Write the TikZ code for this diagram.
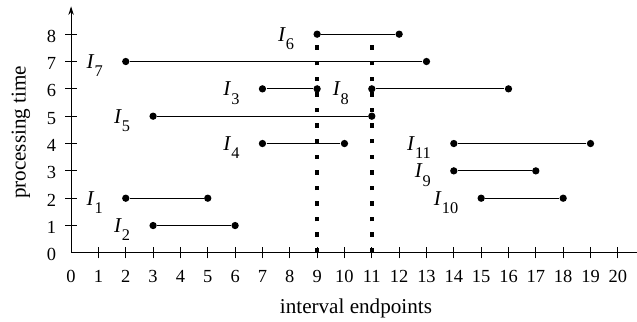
\documentclass[tikz,border=0pt]{standalone}
\usepackage{fontspec}
\setmainfont{Liberation Serif}
\usetikzlibrary{arrows.meta}
\tikzset{
    end-dot/.style = {circle, fill=black, inner sep=0pt, minimum size=3.8pt},
    interval-label/.style = {anchor=base east, inner sep=0pt, font=\fontsize{11}{12}\selectfont},
    tick-label/.style = {anchor=base, inner sep=0pt, font=\fontsize{9.6}{12}\selectfont},
    axis-title/.style = {anchor=base, inner sep=0pt, font=\fontsize{11}{13}\selectfont},
    sweep-line/.style = {line width=2.3pt, dash pattern=on 2.3pt off 5.81pt},
}
\newcommand\intname[1]{\textit{I}\raisebox{-4.3pt}{\fontsize{8.5}{9}\selectfont #1}}

\begin{document}
\begin{tikzpicture}[x=0.5cm, y=0.5cm, line width=0.6pt]
\useasboundingbox (-2.6,-2.52) rectangle (20.7,9.25);
% axes
\draw[-{Stealth[length=4.5pt,width=2.8pt]}] (0,0) -- (0,9.02);
\draw (0,0) -- (20.7,0);
\node[tick-label] (x0) at (0,-1.1) {0};
\node[tick-label] (y0) at (-0.72,-0.29) {0};
\foreach \x in {1,...,20} {
    \draw (\x,-0.2) -- (\x,0.2);
    \node[tick-label] (x\x) at (\x,-1.1) {\x};
}
\foreach \y in {1,...,8} {
    \draw (-0.22,\y) -- (0.22,\y);
    \node[tick-label] (y\y) at (-0.72,\y-0.29) {\y};
}
\node[axis-title, rotate=90] (ytitle) at (-1.66,4.41) {processing time};
\node[axis-title] (xtitle) at (10.42,-2.23) {interval endpoints};

% the two sweep positions
\draw[sweep-line] (9,0.015) -- (9,8);
\draw[sweep-line] (11,0.015) -- (11,7.62);

% intervals: number/left/right/height
\foreach \i/\l/\r/\h in {1/2/5/2, 2/3/6/1, 3/7/9/6, 4/7/10/4, 5/3/11/5, 6/9/12/8,
                        7/2/13/7, 8/11/16/6, 9/14/17/3, 10/15/18/2, 11/14/19/4} {
    \node[end-dot] (l\i) at (\l,\h) {};
    \node[end-dot] (r\i) at (\r,\h) {};
    \draw (l\i) -- (r\i);
    \node[interval-label] (n\i) at ([xshift=-4.1mm, yshift=-1.28mm]l\i.center) {\intname{\i}};
}
\end{tikzpicture}
\end{document}
